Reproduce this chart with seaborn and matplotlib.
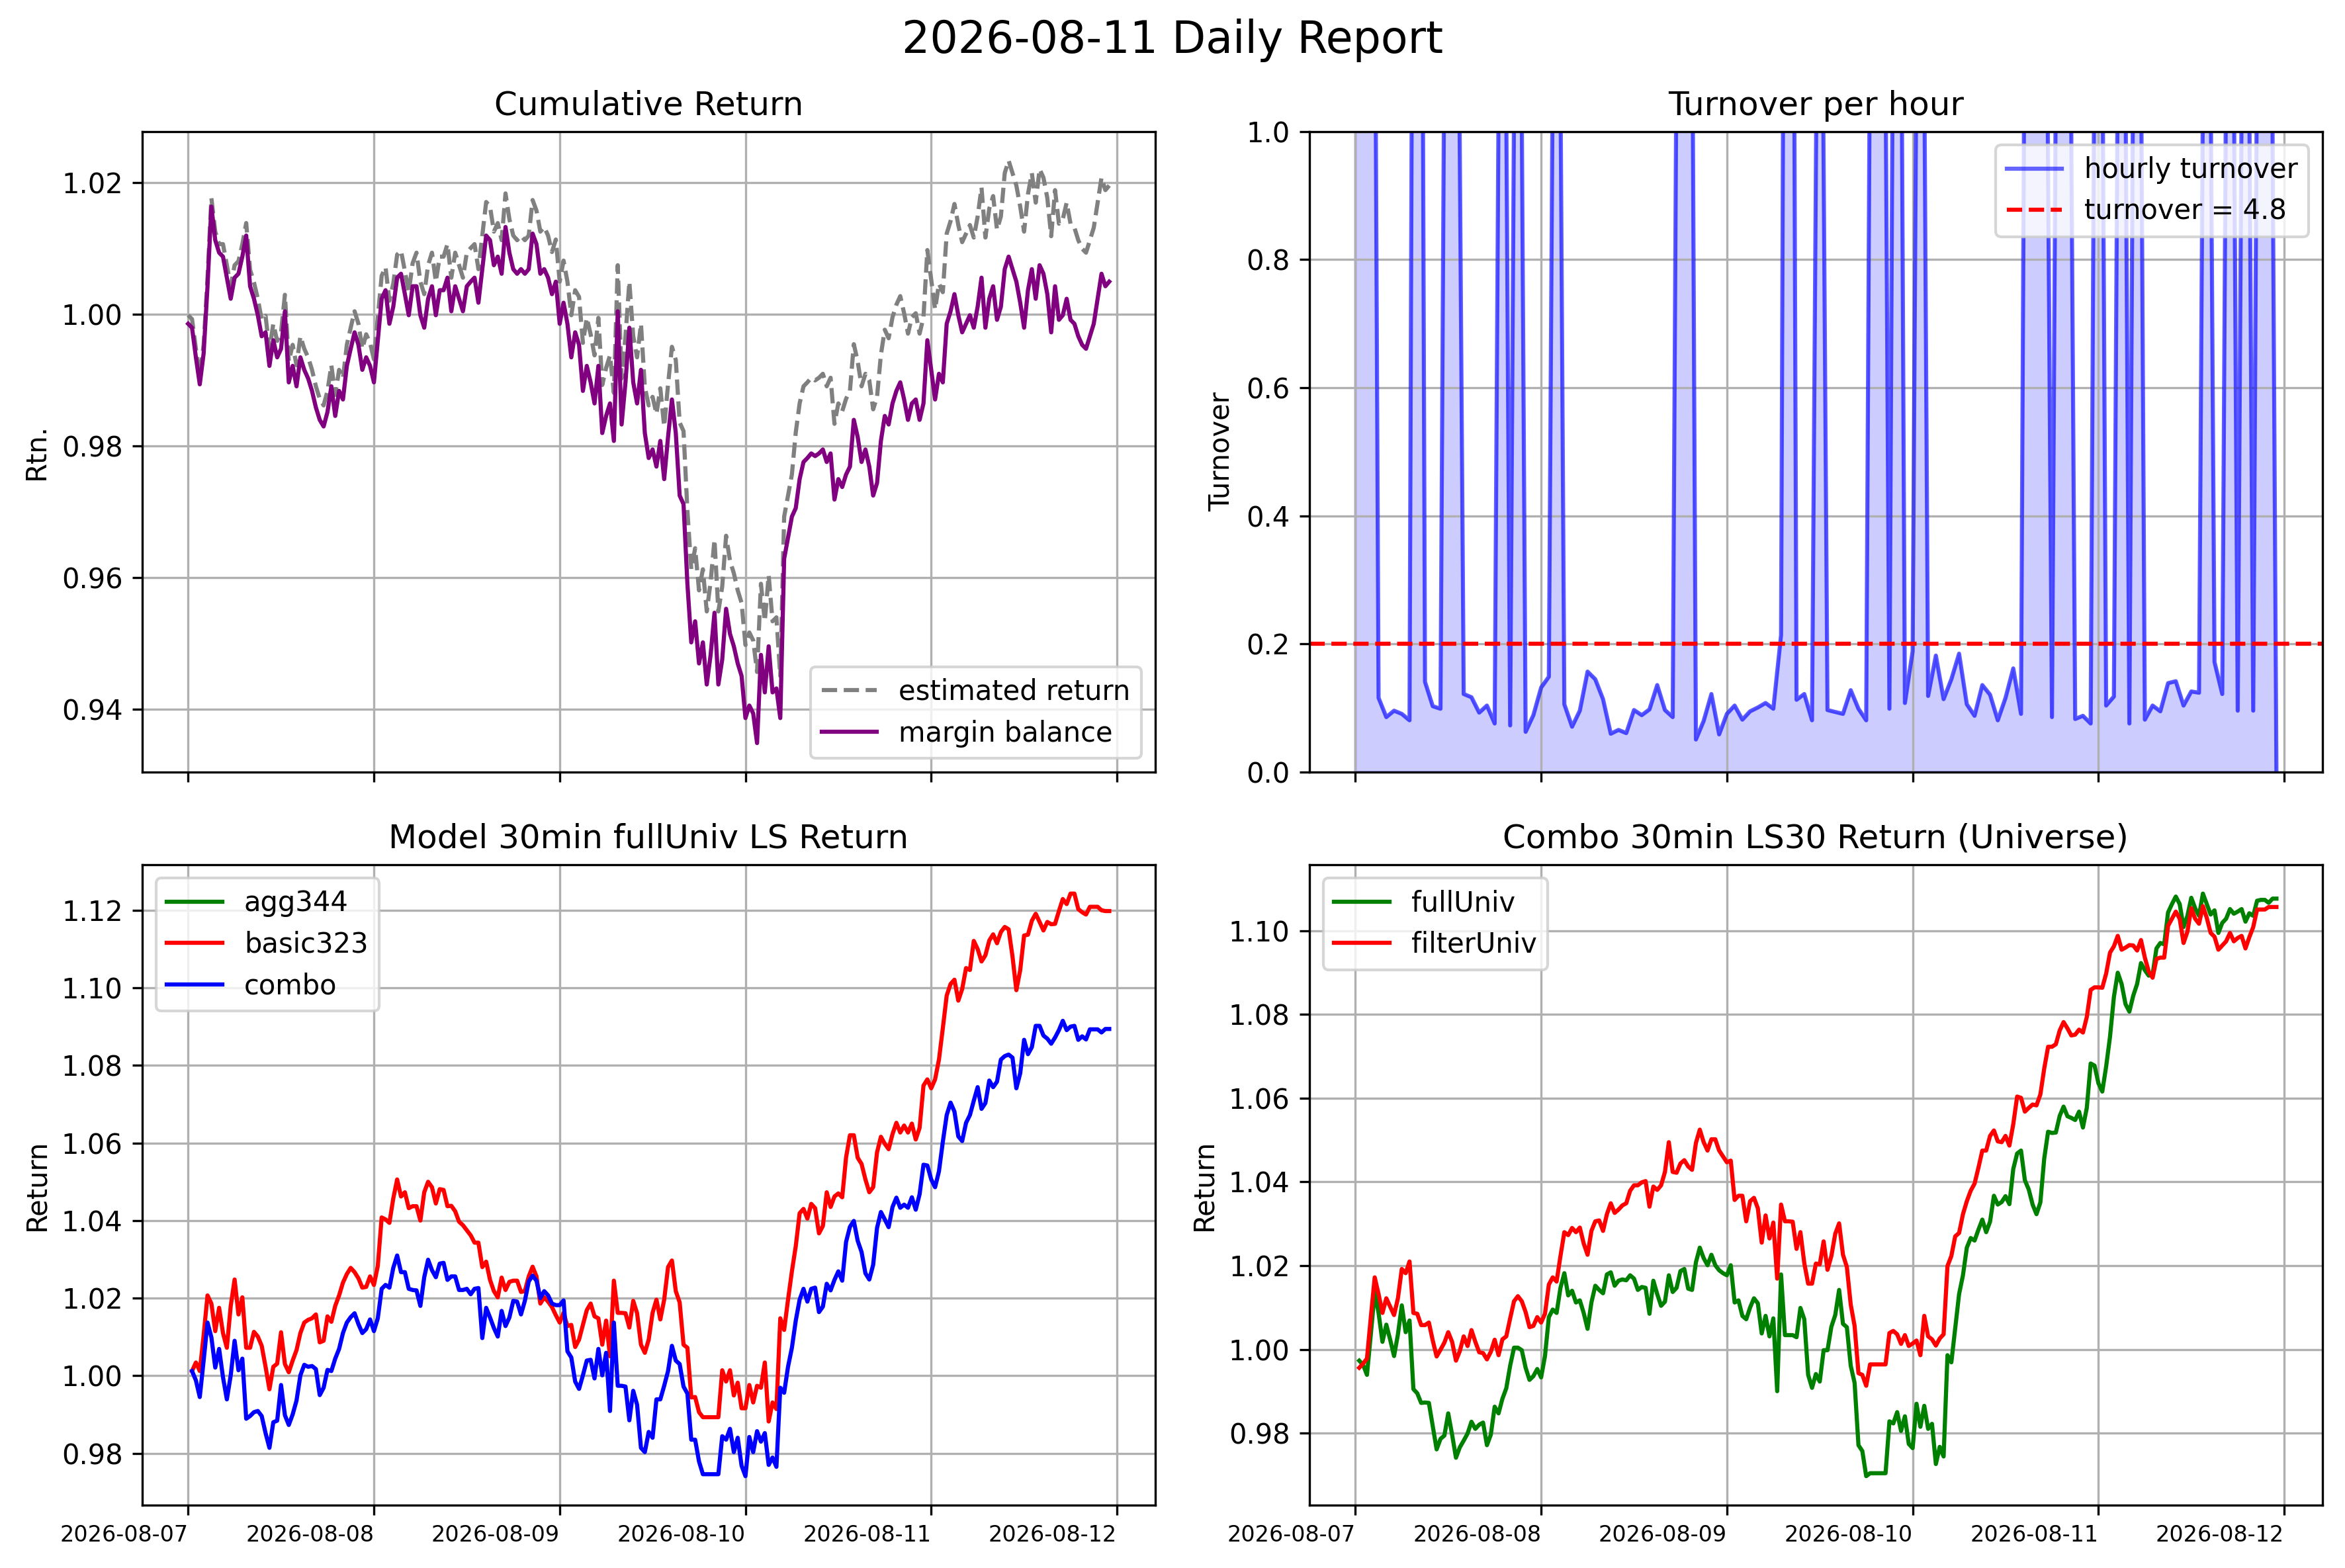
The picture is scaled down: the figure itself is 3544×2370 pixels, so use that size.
import numpy as np
import pandas as pd
import matplotlib
matplotlib.use("Agg")
import matplotlib.pyplot as plt
import seaborn as sns

report_date = "2026-08-11"

# cumulative return, sampled every 30min from 2026-08-07 00:00
margin_balance = [
    0.9986, 0.9980, 0.9935, 0.9894, 0.9941, 1.0043, 1.0164, 1.0113, 1.0094, 1.0088,
    1.0056, 1.0024, 1.0056, 1.0062, 1.0088, 1.0120, 1.0043, 1.0024, 0.9999, 0.9967,
    0.9973, 0.9922, 0.9961, 0.9935, 0.9948, 1.0005, 0.9897, 0.9922, 0.9891, 0.9935,
    0.9916, 0.9903, 0.9884, 0.9859, 0.9840, 0.9830, 0.9852, 0.9891, 0.9846, 0.9884,
    0.9871, 0.9922, 0.9948, 0.9973, 0.9954, 0.9916, 0.9935, 0.9922, 0.9897, 0.9961,
    1.0024, 1.0037, 0.9986, 1.0012, 1.0056, 1.0062, 1.0031, 0.9999, 1.0043, 1.0043,
    0.9999, 0.9980, 1.0024, 1.0043, 0.9999, 1.0037, 1.0037, 1.0056, 1.0005, 1.0043,
    1.0024, 1.0005, 1.0043, 1.0050, 1.0056, 1.0018, 1.0069, 1.0120, 1.0113, 1.0075,
    1.0088, 1.0062, 1.0133, 1.0094, 1.0069, 1.0062, 1.0069, 1.0062, 1.0069, 1.0123,
    1.0107, 1.0062, 1.0069, 1.0056, 1.0031, 1.0050, 0.9986, 1.0018, 0.9986, 0.9935,
    0.9973, 0.9954, 0.9884, 0.9922, 0.9897, 0.9865, 0.9922, 0.9820, 0.9846, 0.9865,
    0.9808, 1.0005, 0.9833, 0.9897, 0.9980, 0.9897, 0.9865, 0.9916, 0.9820, 0.9782,
    0.9795, 0.9769, 0.9808, 0.9750, 0.9814, 0.9871, 0.9820, 0.9725, 0.9712, 0.9591,
    0.9502, 0.9534, 0.9470, 0.9502, 0.9438, 0.9483, 0.9547, 0.9438, 0.9476, 0.9553,
    0.9515, 0.9496, 0.9470, 0.9451, 0.9387, 0.9406, 0.9394, 0.9349, 0.9483, 0.9426,
    0.9496, 0.9426, 0.9432, 0.9387, 0.9629, 0.9661, 0.9693, 0.9706, 0.9750, 0.9776,
    0.9782, 0.9789, 0.9785, 0.9789, 0.9795, 0.9776, 0.9789, 0.9719, 0.9750, 0.9738,
    0.9757, 0.9769, 0.9840, 0.9814, 0.9776, 0.9795, 0.9769, 0.9725, 0.9744, 0.9808,
    0.9846, 0.9833, 0.9865, 0.9884, 0.9897, 0.9871, 0.9840, 0.9865, 0.9871, 0.9840,
    0.9865, 0.9961, 0.9916, 0.9871, 0.9910, 0.9897, 0.9986, 1.0005, 1.0031, 0.9999,
    0.9973, 0.9986, 0.9999, 0.9980, 1.0012, 1.0056, 0.9980, 1.0024, 1.0043, 0.9992,
    1.0012, 1.0069, 1.0088, 1.0069, 1.0050, 1.0018, 0.9980, 1.0037, 1.0069, 1.0024,
    1.0075, 1.0062, 1.0031, 0.9973, 1.0043, 0.9992, 0.9999, 1.0024, 0.9992, 0.9986,
    0.9967, 0.9954, 0.9948, 0.9967, 0.9986, 1.0024, 1.0062, 1.0043, 1.0050,
]
estimated_return = [
    0.9999, 0.9993, 0.9948, 0.9907, 0.9954, 1.0056, 1.0177, 1.0126, 1.0107, 1.0107,
    1.0075, 1.0043, 1.0075, 1.0081, 1.0107, 1.0139, 1.0068, 1.0049, 1.0024, 0.9992,
    0.9998, 0.9947, 0.9986, 0.9960, 0.9973, 1.0030, 0.9929, 0.9954, 0.9923, 0.9967,
    0.9948, 0.9935, 0.9916, 0.9891, 0.9872, 0.9862, 0.9884, 0.9923, 0.9878, 0.9916,
    0.9903, 0.9954, 0.9980, 1.0005, 0.9986, 0.9948, 0.9970, 0.9957, 0.9932, 0.9996,
    1.0059, 1.0072, 1.0021, 1.0047, 1.0091, 1.0097, 1.0066, 1.0034, 1.0078, 1.0094,
    1.0050, 1.0031, 1.0075, 1.0094, 1.0050, 1.0088, 1.0088, 1.0107, 1.0056, 1.0094,
    1.0075, 1.0056, 1.0094, 1.0101, 1.0107, 1.0069, 1.0120, 1.0171, 1.0164, 1.0126,
    1.0139, 1.0113, 1.0184, 1.0145, 1.0120, 1.0113, 1.0120, 1.0113, 1.0120, 1.0174,
    1.0158, 1.0126, 1.0133, 1.0120, 1.0095, 1.0114, 1.0050, 1.0082, 1.0050, 0.9999,
    1.0037, 1.0027, 0.9957, 0.9995, 0.9970, 0.9938, 0.9995, 0.9893, 0.9919, 0.9938,
    0.9881, 1.0075, 0.9903, 0.9967, 1.0050, 0.9967, 0.9935, 0.9986, 0.9890, 0.9862,
    0.9875, 0.9849, 0.9888, 0.9830, 0.9894, 0.9951, 0.9931, 0.9836, 0.9823, 0.9702,
    0.9613, 0.9645, 0.9581, 0.9613, 0.9549, 0.9594, 0.9658, 0.9549, 0.9587, 0.9664,
    0.9626, 0.9607, 0.9581, 0.9562, 0.9498, 0.9517, 0.9505, 0.9457, 0.9591, 0.9534,
    0.9604, 0.9534, 0.9540, 0.9451, 0.9693, 0.9725, 0.9757, 0.9821, 0.9865, 0.9891,
    0.9897, 0.9904, 0.9900, 0.9904, 0.9910, 0.9891, 0.9904, 0.9834, 0.9865, 0.9853,
    0.9872, 0.9884, 0.9955, 0.9929, 0.9891, 0.9910, 0.9900, 0.9856, 0.9875, 0.9939,
    0.9977, 0.9964, 0.9996, 1.0015, 1.0028, 1.0002, 0.9971, 0.9996, 1.0002, 0.9971,
    0.9996, 1.0098, 1.0053, 1.0008, 1.0047, 1.0034, 1.0123, 1.0142, 1.0168, 1.0136,
    1.0110, 1.0123, 1.0136, 1.0117, 1.0149, 1.0193, 1.0117, 1.0161, 1.0180, 1.0129,
    1.0149, 1.0215, 1.0234, 1.0215, 1.0196, 1.0164, 1.0126, 1.0183, 1.0215, 1.0170,
    1.0221, 1.0208, 1.0177, 1.0119, 1.0189, 1.0138, 1.0145, 1.0170, 1.0138, 1.0132,
    1.0113, 1.0100, 1.0094, 1.0113, 1.0132, 1.0170, 1.0208, 1.0189, 1.0196,
]

# hourly turnover from 2026-08-07 00:00 (values above 1 are cut by the axis)
turnover_hourly = [
    2.5, 2.5, 2.64, 0.116, 0.086, 0.096, 0.091, 0.081, 3.5, 0.141,
    0.103, 0.099, 2.2, 1.8, 0.122, 0.117, 0.093, 0.104, 0.076, 2.0,
    0.073, 2.0, 0.063, 0.089, 0.132, 0.149, 2.05, 0.106, 0.071, 0.096,
    0.157, 0.145, 0.114, 0.060, 0.066, 0.061, 0.097, 0.089, 0.098, 0.136,
    0.097, 0.086, 2.2, 2.5, 0.051, 0.080, 0.122, 0.059, 0.091, 0.104,
    0.082, 0.095, 0.101, 0.108, 0.099, 0.214, 3.4, 0.113, 0.122, 0.081,
    1.8, 0.097, 0.094, 0.091, 0.128, 0.099, 0.081, 2.3, 2.1, 0.099,
    2.5, 0.108, 0.189, 2.1, 0.119, 0.182, 0.114, 0.145, 0.185, 0.106,
    0.088, 0.136, 0.121, 0.081, 0.116, 0.162, 0.091, 2.5, 2.5, 1.8,
    0.086, 2.1, 1.9, 0.083, 0.088, 0.076, 2.3, 0.104, 0.118, 2.1,
    0.076, 2.2, 0.082, 0.104, 0.095, 0.139, 0.142, 0.104, 0.126, 0.124,
    2.0, 0.172, 0.122, 2.1, 0.096, 2.0, 0.096, 2.2, 2.0, 0.0,
]
turnover_threshold = 0.2
turnover_label = "turnover = 4.8"

# model 30min LS return, every 30min from 2026-08-07 00:30
agg344 = []
basic323 = [
    1.0012, 1.0034, 1.0012, 1.0104, 1.0207, 1.0186, 1.0115, 1.0175, 1.0110, 1.0072,
    1.0180, 1.0248, 1.0158, 1.0202, 1.0072, 1.0072, 1.0113, 1.0101, 1.0077, 1.0023,
    0.9965, 1.0023, 1.0031, 1.0112, 1.0030, 1.0009, 1.0039, 1.0066, 1.0110, 1.0137,
    1.0144, 1.0148, 1.0158, 1.0086, 1.0090, 1.0153, 1.0139, 1.0180, 1.0207, 1.0240,
    1.0262, 1.0278, 1.0267, 1.0251, 1.0227, 1.0229, 1.0256, 1.0234, 1.0283, 1.0408,
    1.0403, 1.0394, 1.0457, 1.0506, 1.0462, 1.0473, 1.0432, 1.0437, 1.0437, 1.0400,
    1.0473, 1.0500, 1.0486, 1.0444, 1.0481, 1.0479, 1.0437, 1.0438, 1.0424, 1.0397,
    1.0388, 1.0375, 1.0362, 1.0343, 1.0343, 1.0280, 1.0294, 1.0247, 1.0218, 1.0202,
    1.0253, 1.0221, 1.0242, 1.0245, 1.0245, 1.0216, 1.0218, 1.0256, 1.0281, 1.0256,
    1.0186, 1.0202, 1.0191, 1.0177, 1.0156, 1.0137, 1.0162, 1.0128, 1.0131, 1.0074,
    1.0093, 1.0131, 1.0169, 1.0186, 1.0153, 1.0148, 1.0080, 1.0142, 1.0050, 1.0245,
    1.0162, 1.0162, 1.0161, 1.0124, 1.0193, 1.0161, 1.0080, 1.0059, 1.0093, 1.0162,
    1.0196, 1.0145,
    1.0196, 1.0280, 1.0297, 1.0218, 1.0189, 1.0080, 1.0072, 0.9944, 0.9945, 0.9906,
    0.9893, 0.9893, 0.9893, 0.9893, 0.9893, 1.0014, 0.9985, 1.0014, 0.9949, 0.9982,
    0.9916, 0.9916, 0.9976, 0.9931, 0.9974, 0.9969, 1.0034, 0.9882, 0.9931, 0.9914,
    1.0148, 1.0118, 1.0196, 1.0269, 1.0334, 1.0419, 1.0430, 1.0405, 1.0443,
    1.0432, 1.0367, 1.0386, 1.0473, 1.0435, 1.0462, 1.0470, 1.0460, 1.0563, 1.0620,
    1.0620, 1.0562, 1.0546, 1.0506, 1.0473, 1.0486, 1.0576, 1.0616, 1.0598, 1.0584,
    1.0623, 1.0652, 1.0627, 1.0645, 1.0627, 1.0650, 1.0609, 1.0639, 1.0748, 1.0764,
    1.0741, 1.0764, 1.0815, 1.0896, 1.0980, 1.1010, 1.1021, 1.0967, 1.0997, 1.1051,
    1.1046, 1.1121, 1.1100, 1.1068, 1.1084, 1.1122, 1.1138, 1.1115, 1.1144, 1.1157,
    1.1151, 1.1081, 1.0994, 1.1046, 1.1135, 1.1137, 1.1173, 1.1191, 1.1170, 1.1148,
    1.1170, 1.1164, 1.1165, 1.1198, 1.1229, 1.1216, 1.1243, 1.1243, 1.1203, 1.1195,
    1.1189, 1.1209, 1.1209, 1.1209, 1.1200, 1.1198, 1.1198,
]
combo = [
    1.0012, 0.9988, 0.9945, 1.0039, 1.0137, 1.0099, 1.0021, 1.0069, 0.9996, 0.9939,
    1.0001, 1.0090, 1.0014, 1.0044, 0.9889, 0.9896, 0.9906, 0.9909, 0.9896, 0.9852,
    0.9814, 0.9880, 0.9884, 0.9976, 0.9898, 0.9873, 0.9900, 0.9936, 1.0001, 1.0028,
    1.0023, 1.0025, 1.0017, 0.9950, 0.9969, 1.0015, 1.0012, 1.0044, 1.0069, 1.0110,
    1.0137, 1.0151, 1.0161, 1.0133, 1.0110, 1.0120, 1.0145, 1.0115, 1.0148, 1.0224,
    1.0234, 1.0227, 1.0278, 1.0310, 1.0267, 1.0267, 1.0224, 1.0221, 1.0220, 1.0180,
    1.0254, 1.0299, 1.0272, 1.0254, 1.0289, 1.0291, 1.0247, 1.0256, 1.0256, 1.0221,
    1.0221, 1.0224, 1.0210, 1.0224, 1.0226, 1.0097, 1.0175, 1.0150, 1.0123, 1.0101,
    1.0167, 1.0128, 1.0150, 1.0193, 1.0191, 1.0158, 1.0193, 1.0243, 1.0258, 1.0245,
    1.0200, 1.0218, 1.0207, 1.0186, 1.0182, 1.0182, 1.0194, 1.0063, 1.0047, 0.9985,
    0.9966, 1.0001, 1.0039, 1.0041, 0.9993, 1.0069, 1.0001, 1.0059, 0.9909, 1.0137,
    0.9974, 0.9974, 0.9972, 0.9885, 0.9961, 0.9925, 0.9814, 0.9803, 0.9855, 0.9840,
    0.9939, 0.9939,
    0.9974, 1.0012, 1.0077, 1.0039, 1.0030, 0.9972, 0.9954, 0.9835, 0.9835, 0.9779,
    0.9746, 0.9746, 0.9746, 0.9746, 0.9746, 0.9844, 0.9835, 0.9863, 0.9803, 0.9840,
    0.9768, 0.9741, 0.9842, 0.9803, 0.9857, 0.9830, 0.9852, 0.9770, 0.9789, 0.9765,
    0.9969, 0.9956, 1.0023, 1.0072, 1.0142, 1.0196, 1.0224, 1.0191, 1.0224,
    1.0227, 1.0164, 1.0178, 1.0237, 1.0220, 1.0247, 1.0269, 1.0245, 1.0345, 1.0384,
    1.0399, 1.0348, 1.0319, 1.0264, 1.0248, 1.0286, 1.0381, 1.0422, 1.0403, 1.0383,
    1.0435, 1.0459, 1.0433, 1.0441, 1.0433, 1.0460, 1.0428, 1.0468, 1.0544, 1.0542,
    1.0506, 1.0486, 1.0527, 1.0603, 1.0672, 1.0704, 1.0681, 1.0617, 1.0605, 1.0652,
    1.0672, 1.0709, 1.0744, 1.0688, 1.0703, 1.0761, 1.0744, 1.0758, 1.0815, 1.0824,
    1.0828, 1.0820, 1.0741, 1.0780, 1.0866, 1.0829, 1.0847, 1.0902, 1.0902, 1.0877,
    1.0869, 1.0856, 1.0872, 1.0891, 1.0915, 1.0891, 1.0900, 1.0902, 1.0866, 1.0875,
    1.0867, 1.0893, 1.0893, 1.0893, 1.0885, 1.0894, 1.0894,
]

# combo LS30 return by universe, every 30min from 2026-08-07 00:30
full_univ = [
    0.9973, 0.9963, 0.9939, 1.0036, 1.0137, 1.0087, 1.0018, 1.0059, 1.0023, 0.9984,
    1.0036, 1.0105, 1.0041, 1.0069, 0.9905, 0.9895, 0.9872, 0.9873, 0.9872, 0.9817,
    0.9761, 0.9786, 0.9794, 0.9847, 0.9796, 0.9741, 0.9766, 0.9782, 0.9799, 0.9827,
    0.9810, 0.9820, 0.9825, 0.9771, 0.9796, 0.9863, 0.9847, 0.9882, 0.9907, 0.9961,
    1.0004, 1.0004, 0.9998, 0.9956, 0.9927, 0.9936, 0.9953, 0.9933, 0.9984, 1.0077,
    1.0095, 1.0087, 1.0147, 1.0182, 1.0129, 1.0140, 1.0112, 1.0117, 1.0087, 1.0049,
    1.0112, 1.0152, 1.0142, 1.0134, 1.0179, 1.0184, 1.0152, 1.0164, 1.0167, 1.0165,
    1.0177, 1.0169, 1.0142, 1.0149, 1.0147, 1.0085, 1.0164, 1.0132, 1.0104, 1.0114,
    1.0177, 1.0137, 1.0147, 1.0187, 1.0192, 1.0145, 1.0142, 1.0208, 1.0243, 1.0218,
    1.0201, 1.0226, 1.0201, 1.0189, 1.0182, 1.0177, 1.0201, 1.0112, 1.0117, 1.0080,
    1.0072, 1.0100, 1.0122, 1.0110, 1.0038, 1.0080, 1.0031, 1.0074, 0.9900, 1.0179,
    1.0034, 1.0034, 1.0034, 1.0029, 1.0099, 1.0072, 0.9939, 0.9908, 0.9941, 0.9923,
    0.9998,
    0.9998, 1.0054, 1.0082, 1.0142, 1.0061, 1.0053, 0.9961, 0.9920, 0.9771, 0.9757,
    0.9697, 0.9704, 0.9704, 0.9704, 0.9704, 0.9704, 0.9828, 0.9823, 0.9850, 0.9805,
    0.9840, 0.9774, 0.9764, 0.9870, 0.9815, 0.9865, 0.9810, 0.9822, 0.9726, 0.9767,
    0.9744, 0.9986, 0.9969, 1.0051, 1.0132, 1.0177, 1.0243, 1.0266, 1.0260, 1.0286,
    1.0310, 1.0280, 1.0305, 1.0367, 1.0346, 1.0352, 1.0366, 1.0347, 1.0431, 1.0468,
    1.0475, 1.0404, 1.0382, 1.0346, 1.0323, 1.0351, 1.0456, 1.0520, 1.0517, 1.0518,
    1.0558, 1.0580, 1.0557, 1.0553, 1.0548, 1.0568, 1.0530, 1.0577, 1.0683, 1.0678,
    1.0636, 1.0616, 1.0676, 1.0747, 1.0842, 1.0900, 1.0873, 1.0825, 1.0807, 1.0845,
    1.0873, 1.0923, 1.0906, 1.0893, 1.0896, 1.0958, 1.0971, 1.0968, 1.1044, 1.1064,
    1.1082, 1.1064, 1.1009, 1.1036, 1.1079, 1.1054, 1.1036, 1.1089, 1.1064, 1.1039,
    1.1049, 1.0995, 1.1019, 1.1029, 1.1052, 1.1041, 1.1046, 1.1052, 1.1022, 1.1042,
    1.1036, 1.1072, 1.1074, 1.1074, 1.1067, 1.1077, 1.1077,
]
filter_univ = [
    0.9956, 0.9966, 0.9978, 1.0077, 1.0172, 1.0132, 1.0087, 1.0122, 1.0102, 1.0082,
    1.0122, 1.0192, 1.0182, 1.0210, 1.0087, 1.0085, 1.0058, 1.0058, 1.0064, 1.0021,
    0.9983, 0.9999, 1.0016, 1.0041, 1.0018, 0.9973, 0.9996, 1.0031, 1.0008, 1.0046,
    1.0018, 0.9993, 0.9991, 0.9976, 0.9994, 1.0023, 0.9986, 1.0024, 1.0031, 1.0074,
    1.0115, 1.0127, 1.0115, 1.0089, 1.0053, 1.0056, 1.0077, 1.0064, 1.0085, 1.0155,
    1.0172, 1.0162, 1.0223, 1.0280, 1.0273, 1.0290, 1.0280, 1.0291, 1.0253, 1.0226,
    1.0283, 1.0306, 1.0308, 1.0283, 1.0323, 1.0349, 1.0326, 1.0334, 1.0344, 1.0349,
    1.0379, 1.0392, 1.0392, 1.0399, 1.0402, 1.0341, 1.0389, 1.0381, 1.0392, 1.0424,
    1.0495, 1.0424, 1.0422, 1.0444, 1.0452, 1.0437, 1.0429, 1.0493, 1.0525, 1.0495,
    1.0475, 1.0502, 1.0502, 1.0475, 1.0461, 1.0447, 1.0451, 1.0357, 1.0367, 1.0367,
    1.0306, 1.0354, 1.0362, 1.0337, 1.0255, 1.0320, 1.0265, 1.0303, 1.0169, 1.0346,
    1.0306, 1.0306, 1.0305, 1.0240, 1.0280, 1.0206, 1.0157, 1.0157, 1.0205, 1.0203,
    1.0258,
    1.0190, 1.0223, 1.0276, 1.0301, 1.0226, 1.0197, 1.0107, 1.0056, 0.9943, 0.9939,
    0.9913, 0.9964, 0.9964, 0.9964, 0.9964, 0.9964, 1.0039, 1.0044, 1.0036, 1.0013,
    1.0034, 1.0008, 1.0014, 1.0021, 0.9986, 1.0080, 1.0031, 1.0024, 1.0009, 1.0026,
    1.0036, 1.0199, 1.0223, 1.0270, 1.0278, 1.0323, 1.0354, 1.0379, 1.0396, 1.0434,
    1.0475, 1.0475, 1.0510, 1.0523, 1.0497, 1.0495, 1.0510, 1.0487, 1.0538, 1.0604,
    1.0601, 1.0568, 1.0577, 1.0585, 1.0583, 1.0609, 1.0671, 1.0723, 1.0723, 1.0729,
    1.0762, 1.0782, 1.0767, 1.0750, 1.0752, 1.0764, 1.0757, 1.0794, 1.0859, 1.0865,
    1.0865, 1.0864, 1.0898, 1.0948, 1.0963, 1.0988, 1.0955, 1.0960, 1.0966, 1.0965,
    1.0953, 1.0978, 1.0936, 1.0903, 1.0888, 1.0933, 1.0936, 1.0936, 1.1012, 1.1029,
    1.1046, 1.1029, 1.0971, 1.0998, 1.1054, 1.1029, 1.1017, 1.1059, 1.1031, 1.0995,
    1.0986, 1.0955, 1.0965, 1.0975, 1.0995, 1.0975, 1.0983, 1.0988, 1.0958, 1.0985,
    1.1009, 1.1051, 1.1051, 1.1051, 1.1057, 1.1057, 1.1057,
]


def half_hour_index(start, n):
    return pd.date_range(start, periods=n, freq="30min")


def plot_cumulative(ax):
    t = half_hour_index("2026-08-07 00:00", len(margin_balance))
    sns.lineplot(x=t, y=estimated_return, ax=ax, color="gray", linestyle="--",
                 label="estimated return")
    sns.lineplot(x=t, y=margin_balance, ax=ax, color="purple", label="margin balance")
    ax.set_title("Cumulative Return")
    ax.set_ylabel("Rtn.")
    ax.legend(loc="lower right")


def plot_turnover(ax):
    t = pd.date_range("2026-08-07 00:00", periods=len(turnover_hourly), freq="h")
    ax.fill_between(t, turnover_hourly, color="blue", alpha=0.2)
    sns.lineplot(x=t, y=turnover_hourly, ax=ax, color="blue", alpha=0.6,
                 label="hourly turnover")
    ax.axhline(turnover_threshold, color="red", linestyle="--", label=turnover_label)
    ax.set_ylim(0, 1)
    ax.set_title("Turnover per hour")
    ax.set_ylabel("Turnover")
    ax.legend(loc="upper right")


def plot_model(ax):
    t = half_hour_index("2026-08-07 00:30", len(basic323))
    ax.plot(t[:len(agg344)], agg344, color="green", label="agg344")
    sns.lineplot(x=t, y=basic323, ax=ax, color="red", label="basic323")
    sns.lineplot(x=t, y=combo, ax=ax, color="blue", label="combo")
    ax.set_title("Model 30min fullUniv LS Return")
    ax.set_ylabel("Return")
    ax.legend(loc="upper left")


def plot_universe(ax):
    t = half_hour_index("2026-08-07 00:30", len(full_univ))
    sns.lineplot(x=t, y=full_univ, ax=ax, color="green", label="fullUniv")
    sns.lineplot(x=t, y=filter_univ, ax=ax, color="red", label="filterUniv")
    ax.set_title("Combo 30min LS30 Return (Universe)")
    ax.set_ylabel("Return")
    ax.legend(loc="upper left")


fig, axes = plt.subplots(2, 2, figsize=(3544 / 300, 2370 / 300), sharex=True)
plot_cumulative(axes[0, 0])
plot_turnover(axes[0, 1])
plot_model(axes[1, 0])
plot_universe(axes[1, 1])

for ax in axes.flat:
    ax.grid(True)
    ax.set_xlabel("")
    ax.tick_params(axis="x", labelsize=8)

# date labels sit to the left of their tick, as in the daily report
fig.canvas.draw()
for ax in axes[1]:
    for lbl in ax.get_xticklabels():
        lbl.set_horizontalalignment("right")

fig.suptitle(f"{report_date} Daily Report", fontsize=16, y=0.988)
fig.subplots_adjust(left=0.0606, right=0.9904, top=0.9162, bottom=0.04,
                    wspace=0.152, hspace=0.144)
plt.savefig("out.png", dpi=300)
plt.close()
